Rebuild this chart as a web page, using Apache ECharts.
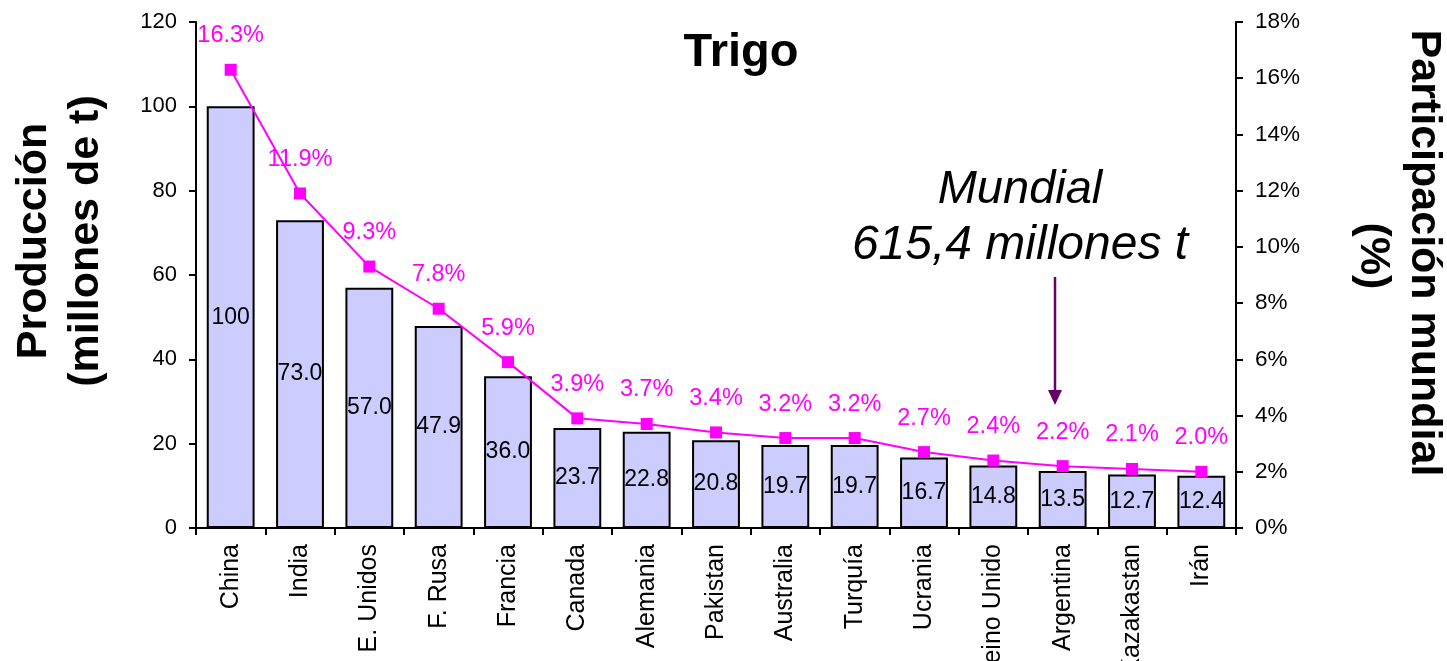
<!DOCTYPE html>
<html>
<head>
<meta charset="utf-8">
<script src="https://cdn.jsdelivr.net/npm/echarts@6/dist/echarts.min.js"></script>
<style>
html,body{margin:0;padding:0;background:#fff;}
#chart{width:1447px;height:661px;}
</style>
</head>
<body>
<div id="chart"></div>
<script>
const categories = ['China','India','E. Unidos','F. Rusa','Francia','Canada','Alemania','Pakistan','Australia','Turquía','Ucrania','Reino Unido','Argentina','Kazakastan','Irán'];
const production = [100, 73.0, 57.0, 47.9, 36.0, 23.7, 22.8, 20.8, 19.7, 19.7, 16.7, 14.8, 13.5, 12.7, 12.4];
const share = [16.3, 11.9, 9.3, 7.8, 5.9, 3.9, 3.7, 3.4, 3.2, 3.2, 2.7, 2.4, 2.2, 2.1, 2.0];
const titleText = 'Trigo';
const leftName = ['Producción', '(millones de t)'];
const rightName = ['Participación mundial', '(%)'];
const note = ['Mundial', '615,4 millones t'];

const FONT = "'Liberation Sans', Arial, sans-serif";
const chart = echarts.init(document.getElementById('chart'), null, {renderer: 'canvas'});

const option = {
  backgroundColor: '#ffffff',
  animation: false,
  textStyle: {fontFamily: FONT},
  grid: {left: 196, right: 211, top: 22, bottom: 133, containLabel: false, outerBoundsMode: 'none'},
  xAxis: {
    type: 'category',
    data: categories,
    boundaryGap: true,
    axisLine: {lineStyle: {color: '#000', width: 2}},
    axisTick: {show: true, length: 7, inside: false, alignWithLabel: false, lineStyle: {color: '#000', width: 2}},
    axisLabel: {rotate: 90, margin: 16, fontSize: 25, color: '#000', fontFamily: FONT, interval: 0},
    splitLine: {show: false}
  },
  yAxis: [
    {
      type: 'value', min: 0, max: 120, interval: 20, position: 'left',
      axisLine: {show: true, lineStyle: {color: '#000', width: 2}},
      axisTick: {show: true, length: 7, lineStyle: {color: '#000', width: 2}},
      axisLabel: {margin: 19, fontSize: 22, color: '#000', fontFamily: FONT},
      splitLine: {show: false}
    },
    {
      type: 'value', min: 0, max: 18, interval: 2, position: 'right',
      axisLine: {show: true, lineStyle: {color: '#000', width: 2}},
      axisTick: {show: true, length: 7, lineStyle: {color: '#000', width: 2}},
      axisLabel: {margin: 19, fontSize: 22.5, color: '#000', fontFamily: FONT, formatter: '{value}%'},
      splitLine: {show: false}
    }
  ],
  series: [
    {
      type: 'bar',
      data: production,
      yAxisIndex: 0,
      barCategoryGap: '31%',
      itemStyle: {color: '#CCCCFF', borderColor: '#000', borderWidth: 2},
      label: {
        show: true, position: 'inside', fontSize: 23, color: '#000', fontFamily: FONT,
        formatter: p => p.value >= 100 ? String(p.value) : p.value.toFixed(1)
      },
      z: 2
    },
    {
      type: 'line',
      data: share,
      yAxisIndex: 1,
      symbol: 'rect',
      symbolSize: 12,
      lineStyle: {color: '#FF00FF', width: 2},
      itemStyle: {color: '#FF00FF'},
      label: {
        show: true, position: 'top', distance: 16, fontSize: 23.5, color: '#FF00FF', fontFamily: FONT,
        formatter: p => p.value.toFixed(1) + '%'
      },
      z: 3
    }
  ],
  graphic: [
    {type: 'text', x: 741, y: 53, style: {text: titleText, font: "bold 47px " + FONT, fill: '#000', align: 'center', verticalAlign: 'middle'}},
    {type: 'text', x: 34, y: 241, rotation: Math.PI / 2, style: {text: leftName[0], font: "bold 43px " + FONT, fill: '#000', align: 'center', verticalAlign: 'middle'}},
    {type: 'text', x: 86, y: 241, rotation: Math.PI / 2, style: {text: leftName[1], font: "bold 43px " + FONT, fill: '#000', align: 'center', verticalAlign: 'middle'}},
    {type: 'text', x: 1424, y: 253, rotation: -Math.PI / 2, style: {text: rightName[0], font: "bold 43px " + FONT, fill: '#000', align: 'center', verticalAlign: 'middle'}},
    {type: 'text', x: 1373, y: 256, rotation: -Math.PI / 2, style: {text: rightName[1], font: "bold 43px " + FONT, fill: '#000', align: 'center', verticalAlign: 'middle'}},
    {type: 'text', x: 1020, y: 190, style: {text: note[0], font: "italic 47px " + FONT, fill: '#000', align: 'center', verticalAlign: 'middle'}},
    {type: 'text', x: 1020, y: 246, style: {text: note[1], font: "italic 48px " + FONT, fill: '#000', align: 'center', verticalAlign: 'middle'}},
    {type: 'line', shape: {x1: 1055, y1: 277, x2: 1055, y2: 392}, style: {stroke: '#660066', lineWidth: 2.5}},
    {type: 'polygon', shape: {points: [[1048, 390], [1062, 390], [1055, 405]]}, style: {fill: '#660066'}}
  ]
};
chart.setOption(option);
</script>
</body>
</html>
